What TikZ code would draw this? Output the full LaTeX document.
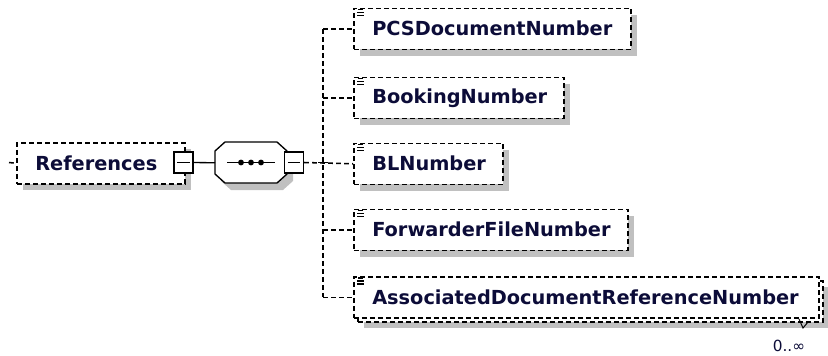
\documentclass[tikz,border=0pt]{standalone}
\usepackage{fontspec}
\setmainfont{DejaVu Sans}
\usetikzlibrary{calc}
\definecolor{navy}{RGB}{12,12,56}
\definecolor{shgray}{RGB}{192,192,192}
\newcommand\elembox[6]{%
  \fill[shgray] (#2+7,#3+7) rectangle (#4+7,#5+7);
  \node[elbox, minimum width={(#4-#2)*0.75pt}, minimum height={(#5-#3)*0.75pt}] (#1) at (#2,#3) {};
  \node[lbl] (#1-t) at ($(#1.west)+(19,0)$) {#6};
  \draw[icon] ($(#1.north west)+(5,2)$) -- ++(5,0);
  \draw[icon] ($(#1.north west)+(4,5)$) -- ++(7,0);
  \draw[icon] ($(#1.north west)+(4,8)$) -- ++(7,0);
}
\begin{document}
\begin{tikzpicture}[x=0.75pt,y=-0.75pt,
  dsh/.style={dash pattern=on 3.6pt off 2.4pt, line width=1.15pt},
  elbox/.style={draw, dsh, fill=white, inner sep=0pt, anchor=north west},
  lbl/.style={anchor=west, inner sep=0pt, text=navy, font=\bfseries\fontsize{14.5pt}{17pt}\selectfont},
  icon/.style={line width=0.8pt},
  mbox/.style={draw, fill=white, line width=1pt, inner sep=0pt, minimum width={19*0.75pt}, minimum height={21*0.75pt}},
  solidline/.style={line width=1pt}
]
\useasboundingbox (0,0) rectangle (828,355);

% References element
\fill[shgray] (23,149) rectangle (191,190);
\node[elbox, minimum width={168*0.75pt}, minimum height={41*0.75pt}] (ref) at (16,142) {};
\node[lbl] (ref-t) at ($(ref.west)+(19,0)$) {References};
\coordinate (refstub) at (9,162.5);
\draw[dsh] (refstub) -- (ref.west);
\node[mbox] (m1) at (183.5,162.5) {};
\draw[solidline] ($(m1.west)+(4,0)$) -- ($(m1.east)+(-4,0)$);

% sequence compositor
\node[inner sep=0pt, minimum width={72*0.75pt}, minimum height={41*0.75pt}, anchor=north west] (seq) at (215,142) {};
\fill[shgray] (231,149) -- (283,149) -- (293,158) -- (293,181) -- (283,190) -- (231,190) -- (221,181) -- (221,158) -- cycle;
\draw[solidline, fill=white] (225,142) -- (277,142) -- (287,151) -- (287,174) -- (277,183) -- (225,183) -- (215,174) -- (215,151) -- cycle;
\draw[solidline] (m1.east) -- (seq.west);
\coordinate (sl) at (227,162.5);
\coordinate (sr) at (275,162.5);
\draw[solidline] (sl) -- (sr);
\fill (241,162.5) circle[radius=2.2pt];
\fill (251,162.5) circle[radius=2.2pt];
\fill (261,162.5) circle[radius=2.2pt];
\node[mbox] (m2) at (294,162.5) {};
\draw[solidline] ($(m2.west)+(4,0)$) -- ($(m2.east)+(-4,0)$);

% children
\elembox{pcs}{353}{7.5}{630}{48.5}{PCSDocumentNumber}
\elembox{book}{353}{76.5}{563}{117.5}{BookingNumber}
\elembox{bl}{353}{142.5}{502}{183.5}{BLNumber}
\elembox{fwd}{353}{208.5}{627}{249.5}{ForwarderFileNumber}

% multiple occurrence element
\fill[shgray] (364,287) rectangle (829,328);
\node[elbox, minimum width={465*0.75pt}, minimum height={41*0.75pt}] (assoc-back) at (357,280) {};
\node[elbox, minimum width={465*0.75pt}, minimum height={41*0.75pt}] (assoc) at (353,276) {};
\node[lbl] (assoc-t) at ($(assoc.west)+(19,0)$) {AssociatedDocumentReferenceNumber};
\draw[icon] ($(assoc.north west)+(5,2)$) -- ++(5,0);
\draw[icon] ($(assoc.north west)+(4,5)$) -- ++(7,0);
\draw[icon] ($(assoc.north west)+(4,8)$) -- ++(7,0);
\coordinate (va) at (799,319);
\coordinate (vb) at (803,328);
\coordinate (vc) at (808,322);
\draw[line width=0.7pt] (va) -- (vb) -- (vc);
\node[text=navy, inner sep=0pt, font=\fontsize{11.5pt}{13pt}\selectfont] (occ) at (789,346) {0..∞};

% connectors
\coordinate (spX) at (323,162.5);
\coordinate (spT) at (spX |- pcs.west);
\coordinate (spB) at (spX |- assoc.west);
\coordinate (spK) at (spX |- book.west);
\coordinate (spF) at (spX |- fwd.west);
\draw[dsh] (spT) -- (spB);
\draw[dsh] (m2.east) -- (bl.west);
\draw[dsh] (spT) -- (pcs.west);
\draw[dsh] (spK) -- (book.west);
\draw[dsh] (spF) -- (fwd.west);
\draw[dsh] (spB) -- (assoc.west);
\draw[solidline] ($(spX)+(-5,0)$) -- ($(spX)+(5,0)$);
\end{tikzpicture}
\end{document}
